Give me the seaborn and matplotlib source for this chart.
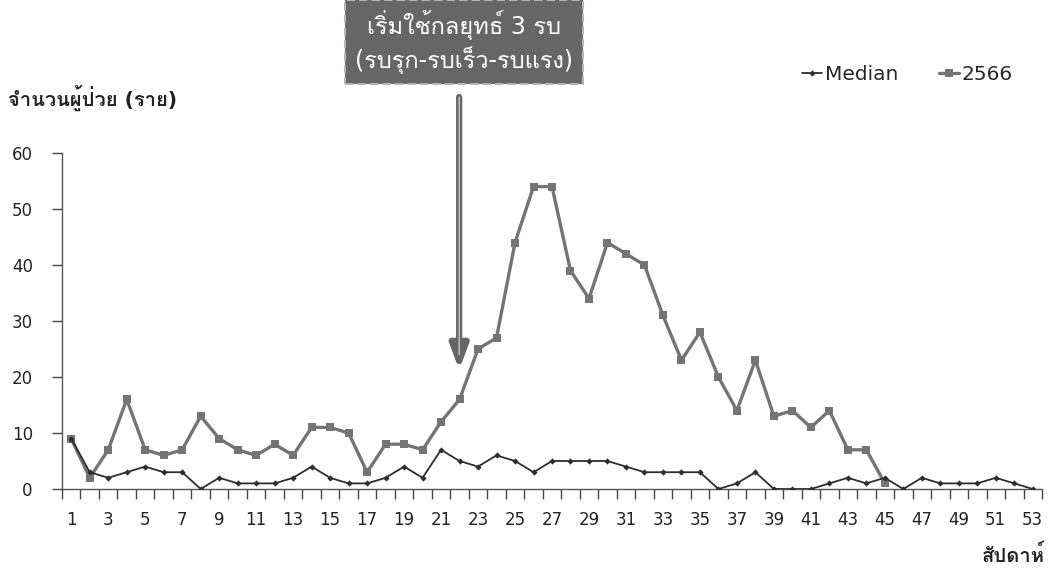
import numpy as np
import pandas as pd
import matplotlib
matplotlib.use("Agg")
import matplotlib.pyplot as plt
import seaborn as sns
from matplotlib import font_manager, ft2font

# Weekly case counts
weeks = list(range(1, 54))
median_cases = [9, 3, 2, 3, 4, 3, 3, 0, 2, 1, 1, 1, 2, 4, 2, 1, 1, 2, 4, 2,
                7, 5, 4, 6, 5, 3, 5, 5, 5, 5, 4, 3, 3, 3, 3, 0, 1, 3, 0, 0,
                0, 1, 2, 1, 2, 0, 2, 1, 1, 1, 2, 1, 0]
cases_2566 = [9, 2, 7, 16, 7, 6, 7, 13, 9, 7, 6, 8, 6, 11, 11, 10, 3, 8, 8, 7,
              12, 16, 25, 27, 44, 54, 54, 39, 34, 44, 42, 40, 31, 23, 28, 20, 14, 23, 13, 14,
              11, 14, 7, 7, 1]
series_names = ["Median", "2566"]
x_tick_labels = [str(w) for w in range(1, 54, 2)]
y_ticks = [0, 10, 20, 30, 40, 50, 60]

y_title = "จำนวนผู้ป่วย (ราย)"
x_title = "สัปดาห์"
box_text = "เริ่มใช้กลยุทธ์ 3 รบ\n(รบรุก-รบเร็ว-รบแรง)"
arrow_week = 22


def thai_family():
    names = []
    for f in font_manager.fontManager.ttflist:
        try:
            ft = ft2font.FT2Font(f.fname)
            if 0x0E01 in ft.get_charmap():
                names.append(f.name)
        except Exception:
            pass
    return names


sns.set_theme(style="white")
thai = thai_family()
plt.rcParams["font.family"] = ["DejaVu Sans"] + (thai[:1] if thai else [])

n_pad = len(weeks) - len(cases_2566)
df = pd.DataFrame({
    "week": weeks * 2,
    "cases": median_cases + cases_2566 + [np.nan] * n_pad,
    "series": [series_names[0]] * len(weeks) + [series_names[1]] * len(weeks),
})

fig = plt.figure(figsize=(10.48, 5.78), dpi=100)
ax = fig.add_axes([62 / 1048, 89 / 578, (1042 - 62) / 1048, (489 - 153) / 578])

sns.lineplot(data=df[df.series == "2566"], x="week", y="cases", ax=ax,
             color="#747474", linewidth=2.4, marker="s", markersize=5.5,
             markeredgewidth=0, label="2566", zorder=2)
sns.lineplot(data=df[df.series == "Median"], x="week", y="cases", ax=ax,
             color="#2e2e2e", linewidth=1.3, marker="D", markersize=3.2,
             markeredgewidth=0, label="Median", zorder=3)

ax.set_xlim(0.5, 53.5)
ax.set_ylim(0, 60)
ax.set_xticks(range(1, 54, 2))
ax.set_xticklabels(x_tick_labels)
ax.set_xticks(np.arange(0.5, 54, 1.0), minor=True)
ax.set_yticks(y_ticks)
ax.tick_params(axis="x", which="major", length=0, pad=16, labelsize=12, colors="#222222")
ax.tick_params(axis="x", which="minor", length=7, width=1, color="#444444", direction="out", bottom=True)
ax.tick_params(axis="y", length=7, width=1, color="#444444", direction="out", left=True,
               labelsize=12, labelcolor="#222222", pad=14)
for s in ["top", "right"]:
    ax.spines[s].set_visible(False)
for s in ["left", "bottom"]:
    ax.spines[s].set_color("#555555")
    ax.spines[s].set_linewidth(1)
ax.set_xlabel("")
ax.set_ylabel("")
ax.grid(False)

fig.text(8 / 1048, 1 - 98 / 578, y_title, fontsize=14.5, fontweight="bold",
         color="#222222", va="center", ha="left")
fig.text(1045 / 1048, 1 - 555 / 578, x_title, fontsize=14.5, fontweight="bold",
         color="#222222", va="center", ha="right")

handles, labels = ax.get_legend_handles_labels()
order = [labels.index("Median"), labels.index("2566")]
ax.legend([handles[i] for i in order], [labels[i] for i in order], ncol=2,
          frameon=False, loc="center right", bbox_to_anchor=(1031 / 1048, 1 - 75 / 578),
          bbox_transform=fig.transFigure, fontsize=14.5, handlelength=1.0,
          handletextpad=0.15, columnspacing=2.0)

# Annotation box with arrow pointing at the start week
fig.text(464 / 1048, 1 - 42 / 578, box_text, fontsize=17, color="white",
         ha="center", va="center", linespacing=1.3,
         bbox=dict(boxstyle="square,pad=0.42", facecolor="#666666",
                   edgecolor="#b5b5b5", linestyle=(0, (4, 2)), linewidth=1.5))
ax.annotate("", xy=(arrow_week - 0.02, 21.3), xytext=(arrow_week - 0.02, 70),
            xycoords="data", textcoords="data", annotation_clip=False,
            arrowprops=dict(arrowstyle="-|>,head_width=0.45,head_length=1.2",
                            color="#666666", linewidth=4.5, shrinkA=0, shrinkB=0))
ax.annotate("", xy=(arrow_week - 0.02, 24), xytext=(arrow_week - 0.02, 70),
            xycoords="data", textcoords="data", annotation_clip=False,
            arrowprops=dict(arrowstyle="-", color="#c8c8c8", linewidth=1,
                            shrinkA=0, shrinkB=0))

fig.savefig("out.png", dpi=100)
